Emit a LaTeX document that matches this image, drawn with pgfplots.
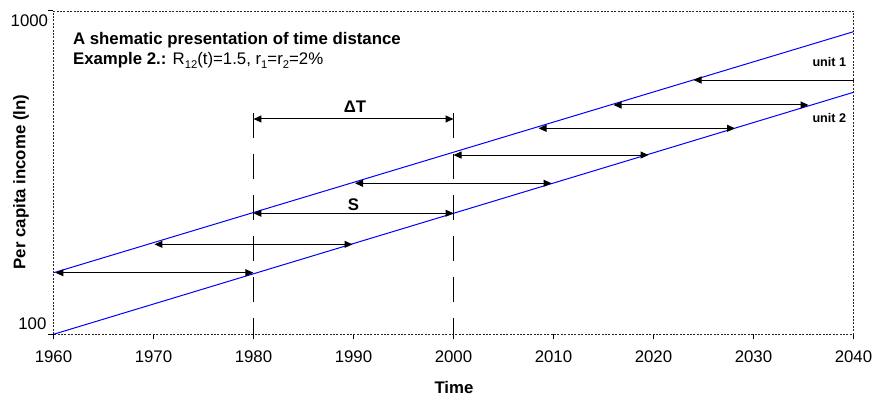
\documentclass[border=0pt]{standalone}
\usepackage{fontspec}
\setmainfont{Liberation Sans}
\usepackage{pgfplots}
\pgfplotsset{compat=1.18}
\usetikzlibrary{arrows.meta}
\newcommand\sub[1]{\raisebox{-2.2pt}{\fontsize{5.6pt}{6pt}\selectfont #1}}
\begin{document}
\begin{tikzpicture}[font=\fontsize{8.4pt}{10pt}\selectfont]
\useasboundingbox (-26.75pt,-31.35pt) rectangle (410.75pt,167.15pt);
\begin{axis}[
  scale only axis, width=400pt, height=161.65pt,
  ymode=log, xmin=1960, xmax=2040, ymin=100, ymax=1000,
  clip=false,
  axis line style={black!85, line width=0.4pt, dash pattern=on 1pt off 0.7pt},
  tick pos=left, tick align=outside, major tick length=2.5pt,
  tick style={solid, black, line width=0.5pt},
  xtick={1960,1970,1980,1990,2000,2010,2020,2030,2040},
  xticklabels={1960,1970,1980,1990,2000,2010,2020,2030,2040},
  xticklabel style={yshift=-2.3pt},
  ytick={100}, yticklabels={100},
  extra y ticks={1000}, extra y tick labels={1000},
  yminorticks=false, xminorticks=false,
  yticklabel style={yshift=5.15pt, xshift=2.5pt},
  extra y tick style={yticklabel style={yshift=-10.15pt, xshift=0.8pt}},
  every axis y label/.style={at={(axis description cs:-0.0406,0.471)}, rotate=90, anchor=center, font=\fontsize{8.4pt}{10pt}\selectfont\bfseries},
  every axis x label/.style={at={(axis description cs:0.5006,-0.166)}, anchor=center, font=\fontsize{8.4pt}{10pt}\selectfont\bfseries},
  ylabel={Per capita income (ln)},
  xlabel={Time},
  myarr/.style={black, line width=0.5pt, {Triangle[length=4pt,width=3.5pt]}-{Triangle[length=4pt,width=3.5pt]}},
]
% unit lines
\addplot[blue, line width=0.5pt] coordinates {(1960,155) (2040,863)};
\addplot[blue, line width=0.5pt] coordinates {(1960,100) (2040,560.5)};
% dashed verticals
\addplot[black, line width=0.5pt, dash pattern=on 12.5pt off 8pt] coordinates {(1980,483.6) (1980,100)};
\addplot[black, line width=0.5pt, dash pattern=on 12.5pt off 8pt] coordinates {(2000,483.6) (2000,100)};
% time-distance arrows
\addplot[myarr] coordinates {(1960.2,155) (1980,155)};
\addplot[myarr] coordinates {(1970.1,189.8) (1989.9,189.8)};
\addplot[myarr] coordinates {(1980,236.8) (2000,236.8)};
\addplot[myarr] coordinates {(1990.15,293.2) (2009.8,293.2)};
\addplot[myarr] coordinates {(2000,358.5) (2019.5,358.5)};
\addplot[myarr] coordinates {(2008.5,433.7) (2028.15,433.7)};
\addplot[myarr] coordinates {(2016,512) (2035.5,512)};
\addplot[black, line width=0.5pt, {Triangle[length=4pt,width=3.5pt]}-] coordinates {(2024,611.7) (2040,611.7)};
\addplot[myarr] coordinates {(1980,463.4) (2000,463.4)};
% texts
\node[anchor=base west, inner sep=0pt, font=\fontsize{8.4pt}{10pt}\selectfont\bfseries] at (axis cs:1961.92,790) {A shematic presentation of time distance};
\node[anchor=base west, inner sep=0pt] at (axis cs:1961.92,685) {\textbf{Example 2.:} R\sub{12}(t)=1.5, r\sub{1}=r\sub{2}=2\%};
\node[font=\fontsize{8.4pt}{10pt}\selectfont\bfseries] at (axis cs:1990.15,505) {ΔT};
\node[font=\fontsize{8.4pt}{10pt}\selectfont\bfseries] at (axis cs:1990,251) {S};
\node[anchor=east, inner sep=0pt, font=\fontsize{6.3pt}{8pt}\selectfont\bfseries] at (axis cs:2039.3,695) {unit 1};
\node[anchor=east, inner sep=0pt, font=\fontsize{6.3pt}{8pt}\selectfont\bfseries] at (axis cs:2039.3,467) {unit 2};
\end{axis}
\end{tikzpicture}
\end{document}
